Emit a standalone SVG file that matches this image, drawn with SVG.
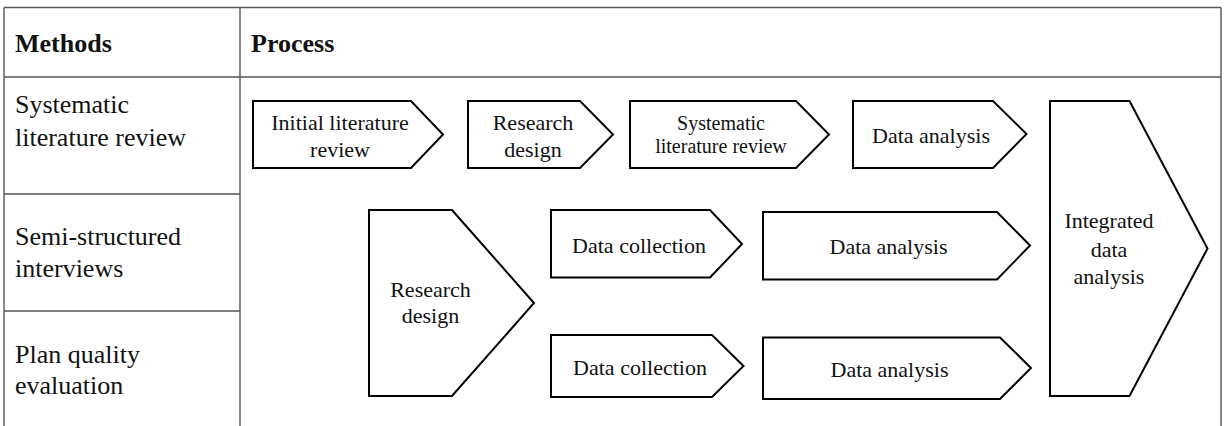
<svg xmlns="http://www.w3.org/2000/svg" width="1225" height="426" viewBox="0 0 1225 426">
<style>
.grid{stroke:#555;stroke-width:1.4;fill:none}
.shape{fill:#fff;stroke:#000;stroke-width:2;stroke-linejoin:miter}
text{font-family:"Liberation Serif","Times New Roman",serif;fill:#111}
.hdr{font-size:26px;font-weight:bold}
.lbl{font-size:26px}
.t{font-size:22px;text-anchor:middle}
.ts{font-size:20px;text-anchor:middle}
</style>
<rect width="1225" height="426" fill="#fff"/>
<g id="table">
<line class="grid" x1="4" y1="7.5" x2="1221" y2="7.5"/>
<line class="grid" x1="4" y1="77" x2="1221" y2="77"/>
<line class="grid" x1="4" y1="7.5" x2="4" y2="426"/>
<line class="grid" x1="240" y1="7.5" x2="240" y2="426"/>
<line class="grid" x1="1221" y1="7.5" x2="1221" y2="426"/>
<line class="grid" x1="4" y1="194" x2="240" y2="194"/>
<line class="grid" x1="4" y1="311" x2="240" y2="311"/>
<text class="hdr" x="15" y="52">Methods</text>
<text class="hdr" x="251" y="52">Process</text>
<text class="lbl" x="15" y="113">Systematic</text>
<text class="lbl" x="15" y="146">literature review</text>
<text class="lbl" x="15" y="245">Semi-structured</text>
<text class="lbl" x="15" y="277">interviews</text>
<text class="lbl" x="15" y="363">Plan quality</text>
<text class="lbl" x="15" y="394">evaluation</text>
</g>
<g id="connectors"></g>
<g id="n-initial-review">
<polygon class="shape" points="253,101 411,101 443,134.5 411,168 253,168"/>
<text class="t" x="340" y="130">Initial literature</text>
<text class="t" x="340" y="157">review</text>
</g>
<g id="n-research-design-1">
<polygon class="shape" points="468,101 580,101 613,134.5 580,168 468,168"/>
<text class="t" x="533" y="130">Research</text>
<text class="t" x="533" y="157">design</text>
</g>
<g id="n-slr">
<polygon class="shape" points="630,101 796,101 829,134.5 796,168 630,168"/>
<text class="ts" x="721" y="130">Systematic</text>
<text class="ts" x="721" y="153">literature review</text>
</g>
<g id="n-data-analysis-1">
<polygon class="shape" points="853,101 993,101 1026.5,134 993,168 853,168"/>
<text class="t" x="931" y="142.5">Data analysis</text>
</g>
<g id="n-research-design-2">
<polygon class="shape" points="369,210 452,210 534,303 452,396 369,396"/>
<text class="t" x="430.5" y="296.5">Research</text>
<text class="t" x="430.5" y="323">design</text>
</g>
<g id="n-data-collection-1">
<polygon class="shape" points="551,210 710,210 742,244 710,277.5 551,277.5"/>
<text class="t" x="639" y="252.5">Data collection</text>
</g>
<g id="n-data-collection-2">
<polygon class="shape" points="551,335 712,335 743.5,366 712,397 551,397"/>
<text class="t" x="640" y="375">Data collection</text>
</g>
<g id="n-data-analysis-2">
<polygon class="shape" points="763,212 997,212 1030,245.5 997,279.5 763,279.5"/>
<text class="t" x="888.5" y="254">Data analysis</text>
</g>
<g id="n-data-analysis-3">
<polygon class="shape" points="763,337.5 1000,337.5 1031,368 1000,399 763,399"/>
<text class="t" x="889.5" y="376.5">Data analysis</text>
</g>
<g id="n-integrated">
<polygon class="shape" points="1050,101 1129.5,101 1207.5,248.5 1129.5,396 1050,396"/>
<text class="t" x="1109" y="228">Integrated</text>
<text class="t" x="1109" y="256.5">data</text>
<text class="t" x="1109" y="284">analysis</text>
</g>
</svg>
